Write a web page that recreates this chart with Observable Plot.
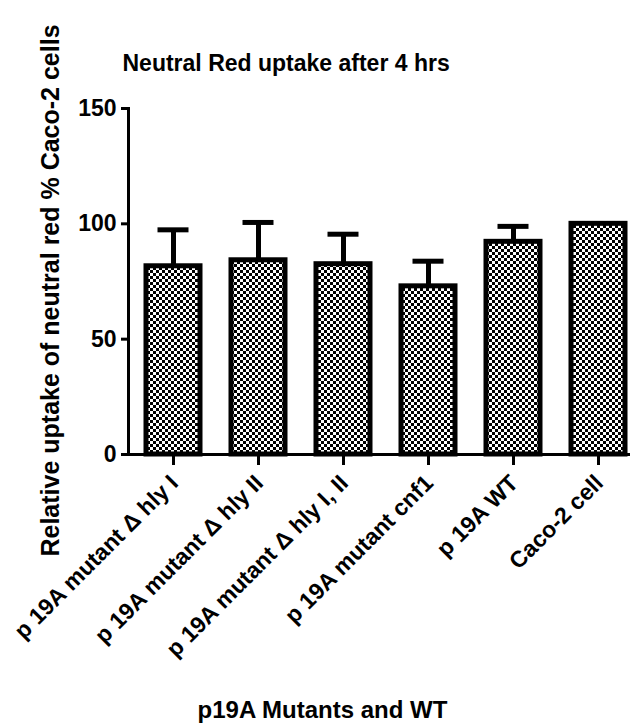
<!DOCTYPE html>
<html>
<head>
<meta charset="utf-8">
<script src="https://cdn.jsdelivr.net/npm/d3@7"></script>
<script src="https://cdn.jsdelivr.net/npm/@observablehq/plot@0.6"></script>
<style>
  html, body { margin: 0; padding: 0; background: #fff; }
  svg { font-family: "Liberation Sans", Arial, sans-serif; font-weight: bold; }
</style>
</head>
<body>
<div id="chart"></div>
<script>
const categories = ["p 19A mutant \u0394 hly I", "p 19A mutant \u0394 hly II", "p 19A mutant \u0394 hly I, II", "p 19A mutant cnf1", "p 19A WT", "Caco-2 cell"];
const means = [81.6, 84.2, 82.5, 72.9, 92.2, 100];
const errors = [15.8, 16.4, 13.0, 10.9, 6.7, 0];
const yTicks = [0, 50, 100, 150];
const titleText = "Neutral Red uptake after 4 hrs";
const yLabel = "Relative uptake of neutral red % Caco-2 cells";
const xLabel = "p19A Mutants and WT";

const data = categories.map((c, i) => ({cat: c, mean: means[i], err: errors[i], hi: means[i] + errors[i]}));
const withErr = data.filter(d => d.err > 0);

const plot = Plot.plot({
  width: 636,
  height: 726,
  marginTop: 108,
  marginBottom: 272,
  marginLeft: 128,
  marginRight: 6,
  style: {fontFamily: "'Liberation Sans', Arial, sans-serif", fontWeight: "bold", background: "white", overflow: "visible"},
  x: {domain: categories, range: [128, 643], paddingInner: 0.36, paddingOuter: 0.18, label: null},
  y: {domain: [0, 150], label: null},
  marks: [
    Plot.ruleX(withErr, {x: "cat", y1: "mean", y2: "hi", stroke: "black", strokeWidth: 5}),
    Plot.tickY(withErr, {x: "cat", y: "hi", stroke: "black", strokeWidth: 5, insetLeft: 11.5, insetRight: 11.5}),
    Plot.barY(data, {x: "cat", y: "mean", fill: "url(#checker)", stroke: "black", strokeWidth: 5}),
    Plot.ruleY([0], {stroke: "black", strokeWidth: 3}),
    Plot.frame({anchor: "left", stroke: "black", strokeWidth: 3}),
    Plot.axisY({ticks: yTicks, tickSize: 7, tickPadding: 5, strokeWidth: 3, fontSize: 23, fontWeight: "bold", label: null}),
    Plot.axisX({tickSize: 11, strokeWidth: 3, text: null, label: null}),
    Plot.text(categories, {x: d => d, text: d => d, frameAnchor: "bottom", rotate: -45, textAnchor: "end", dx: 6, dy: 30, fontSize: 23, fontWeight: "bold"}),
    Plot.text([titleText], {frameAnchor: "top-left", text: d => d, textAnchor: "start", lineAnchor: "bottom", dx: -6, dy: -38, fontSize: 23, fontWeight: "bold"}),
    Plot.text([yLabel], {frameAnchor: "left", text: d => d, rotate: -90, textAnchor: "middle", dx: -78, dy: 9, fontSize: 25, fontWeight: "bold"}),
    Plot.text([xLabel], {frameAnchor: "bottom", text: d => d, textAnchor: "middle", dx: -57, dy: 263, fontSize: 24, fontWeight: "bold"})
  ]
});

const ns = "http://www.w3.org/2000/svg";
const defs = document.createElementNS(ns, "defs");
const pat = document.createElementNS(ns, "pattern");
pat.setAttribute("id", "checker");
pat.setAttribute("width", 6);
pat.setAttribute("height", 6);
pat.setAttribute("patternUnits", "userSpaceOnUse");
[["white", 0, 0, 6, 6], ["black", 0, 0, 3, 3], ["black", 3, 3, 3, 3]].forEach(([f, x, y, w, h]) => {
  const r = document.createElementNS(ns, "rect");
  r.setAttribute("fill", f);
  r.setAttribute("x", x); r.setAttribute("y", y);
  r.setAttribute("width", w); r.setAttribute("height", h);
  pat.appendChild(r);
});
defs.appendChild(pat);
plot.insertBefore(defs, plot.firstChild);
document.getElementById("chart").appendChild(plot);
</script>
</body>
</html>
